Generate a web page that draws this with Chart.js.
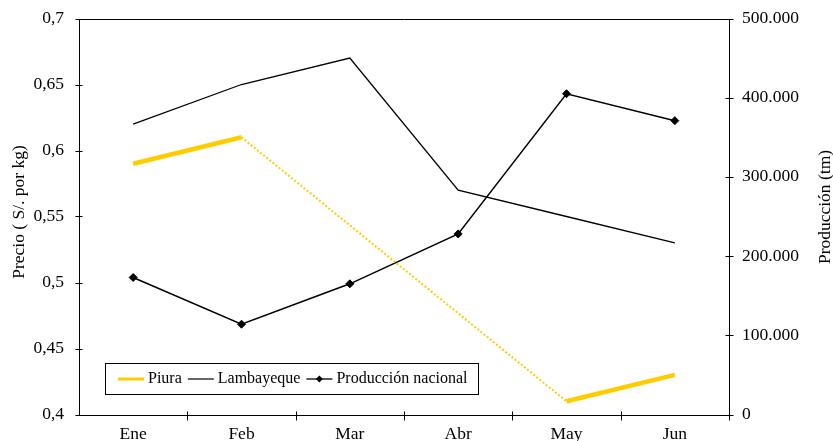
<!DOCTYPE html>
<html>
<head>
<meta charset="utf-8">
<script src="https://cdn.jsdelivr.net/npm/chart.js@4/dist/chart.umd.min.js"></script>
<style>
  html, body { margin: 0; padding: 0; background: #fff; }
  #wrap { width: 833px; height: 441px; }
</style>
</head>
<body>
<div id="wrap"><canvas id="c" width="833" height="441"></canvas></div>
<script>
// Months and series
const months = ['Ene', 'Feb', 'Mar', 'Abr', 'May', 'Jun'];
const piura = [0.59, 0.61, null, null, 0.41, 0.43];
const lambayeque = [0.62, 0.65, 0.67, 0.57, 0.55, 0.53];
const produccion = [173000, 114000, 165000, 228000, 405000, 371000];

// Axis ranges and titles
const priceRange = { min: 0.4, max: 0.7, step: 0.05 };
const prodRange = { min: 0, max: 500000, step: 100000 };
const priceTitle = 'Precio ( S/. por kg)';
const prodTitle = 'Producción (tm)';

const SERIF = "'Liberation Serif', 'Times New Roman', serif";
const YELLOW = '#FFCC00';

function fmtPrice(v) {
  return String(Math.round(v * 100) / 100).replace('.', ',');
}
function fmtProd(v) {
  return String(Math.round(v)).replace(/\B(?=(\d{3})+(?!\d))/g, '.');
}

// Frame, crossing tick marks, rotated axis titles and the inner legend box
const framePlugin = {
  id: 'frame',
  afterDraw(chart) {
    const { ctx, chartArea: a, scales } = chart;
    ctx.save();
    ctx.strokeStyle = '#000';
    ctx.lineWidth = 1;
    const L = Math.round(a.left) + 0.5, R = Math.round(a.right) + 0.5;
    const T = Math.round(a.top) + 0.5, B = Math.round(a.bottom) + 0.5;
    ctx.beginPath();
    ctx.rect(L, T, R - L, B - T);
    // left axis ticks
    scales.y.ticks.forEach((t, i) => {
      const y = Math.round(scales.y.getPixelForTick(i)) + 0.5;
      ctx.moveTo(L - 4, y); ctx.lineTo(L + 3, y);
    });
    // right axis ticks
    scales.y1.ticks.forEach((t, i) => {
      const y = Math.round(scales.y1.getPixelForTick(i)) + 0.5;
      ctx.moveTo(R - 4, y); ctx.lineTo(R + 4, y);
    });
    // category boundaries on the bottom axis
    const n = scales.x.ticks.length;
    const band = (a.right - a.left) / n;
    for (let i = 1; i <= n; i++) {
      const x = Math.round(a.left + i * band) + 0.5;
      ctx.moveTo(x, B - 4); ctx.lineTo(x, B + 5);
    }
    ctx.stroke();

    // axis titles, both reading bottom to top
    ctx.fillStyle = '#000';
    ctx.font = "17.5px " + SERIF;
    ctx.textAlign = 'center';
    ctx.textBaseline = 'middle';
    ctx.save();
    ctx.translate(19, 212);
    ctx.rotate(-Math.PI / 2);
    ctx.fillText(priceTitle, 0, 0);
    ctx.restore();
    ctx.save();
    ctx.translate(825, 207);
    ctx.rotate(-Math.PI / 2);
    ctx.fillText(prodTitle, 0, 0);
    ctx.restore();

    // legend
    const bx = 105.5, by = 363.5, bw = 373, bh = 31;
    ctx.fillStyle = '#fff';
    ctx.fillRect(bx, by, bw, bh);
    ctx.strokeStyle = '#000';
    ctx.lineWidth = 1;
    ctx.strokeRect(bx, by, bw, bh);
    ctx.font = "16px " + SERIF;
    ctx.textAlign = 'left';
    ctx.textBaseline = 'middle';
    const cy = 379;
    let x = 118;
    chart.data.datasets.forEach((ds) => {
      ctx.strokeStyle = ds.borderColor;
      ctx.lineWidth = ds.legendWidth;
      ctx.beginPath();
      ctx.moveTo(x, cy); ctx.lineTo(x + 26, cy);
      ctx.stroke();
      if (ds.pointRadius > 0) {
        const r = 3.5, mx = x + 13;
        ctx.fillStyle = ds.pointBackgroundColor;
        ctx.beginPath();
        ctx.moveTo(mx, cy - r); ctx.lineTo(mx + r, cy); ctx.lineTo(mx, cy + r); ctx.lineTo(mx - r, cy);
        ctx.closePath(); ctx.fill();
      }
      ctx.fillStyle = '#000';
      ctx.fillText(ds.label, x + 30, cy);
      x += 30 + ctx.measureText(ds.label).width + 6;
    });
    ctx.restore();
  }
};

// A segment that bridges missing months is drawn thin and dotted
const gapSeg = (c) => !!(c.p0 && c.p0.skip) || !!(c.p1 && c.p1.skip) ||
  piura[c.p0DataIndex] == null || piura[c.p1DataIndex] == null ||
  (c.p1DataIndex - c.p0DataIndex) > 1;

const noPad = (s) => { s.paddingTop = 0; s.paddingBottom = 0; s.paddingLeft = 0; s.paddingRight = 0; };

new Chart(document.getElementById('c'), {
  type: 'line',
  data: {
    labels: months,
    datasets: [
      {
        label: 'Piura',
        data: piura,
        yAxisID: 'y',
        borderColor: YELLOW,
        borderWidth: 4.5,
        legendWidth: 3,
        borderCapStyle: 'butt',
        pointRadius: 0,
        spanGaps: true,
        segment: {
          borderWidth: (c) => gapSeg(c) ? 2 : 4.5,
          borderDash: (c) => gapSeg(c) ? [2, 2] : []
        }
      },
      {
        label: 'Lambayeque',
        data: lambayeque,
        yAxisID: 'y',
        borderColor: '#000',
        borderWidth: 1.3,
        legendWidth: 1.2,
        pointRadius: 0
      },
      {
        label: 'Producción nacional',
        data: produccion,
        yAxisID: 'y1',
        borderColor: '#000',
        borderWidth: 1.5,
        legendWidth: 1.3,
        pointStyle: 'rectRot',
        pointRadius: 4,
        pointBackgroundColor: '#000',
        pointBorderColor: '#000',
        pointBorderWidth: 1
      }
    ]
  },
  options: {
    responsive: false,
    animation: false,
    events: [],
    layout: { padding: { top: 18.5, left: 0, right: 0, bottom: 0 } },
    plugins: { legend: { display: false }, tooltip: { enabled: false } },
    scales: {
      x: {
        offset: true,
        grid: { display: false, drawTicks: false },
        border: { display: false },
        ticks: { color: '#000', font: { family: SERIF, size: 17.5 }, padding: 9, maxRotation: 0 },
        afterFit(s) { s.height = 441 - 18.5 - 396; noPad(s); }
      },
      y: {
        position: 'left',
        min: priceRange.min, max: priceRange.max,
        grid: { display: false, drawTicks: false },
        border: { display: false },
        ticks: { stepSize: priceRange.step, color: '#000', font: { family: SERIF, size: 17.5 }, padding: 15, callback: fmtPrice },
        afterFit(s) { s.width = 79; noPad(s); }
      },
      y1: {
        position: 'right',
        min: prodRange.min, max: prodRange.max,
        grid: { display: false, drawTicks: false },
        border: { display: false },
        ticks: { stepSize: prodRange.step, color: '#000', font: { family: SERIF, size: 17.5 }, padding: 13, callback: fmtProd },
        afterFit(s) { s.width = 104; noPad(s); }
      }
    }
  },
  plugins: [framePlugin]
});
</script>
</body>
</html>
